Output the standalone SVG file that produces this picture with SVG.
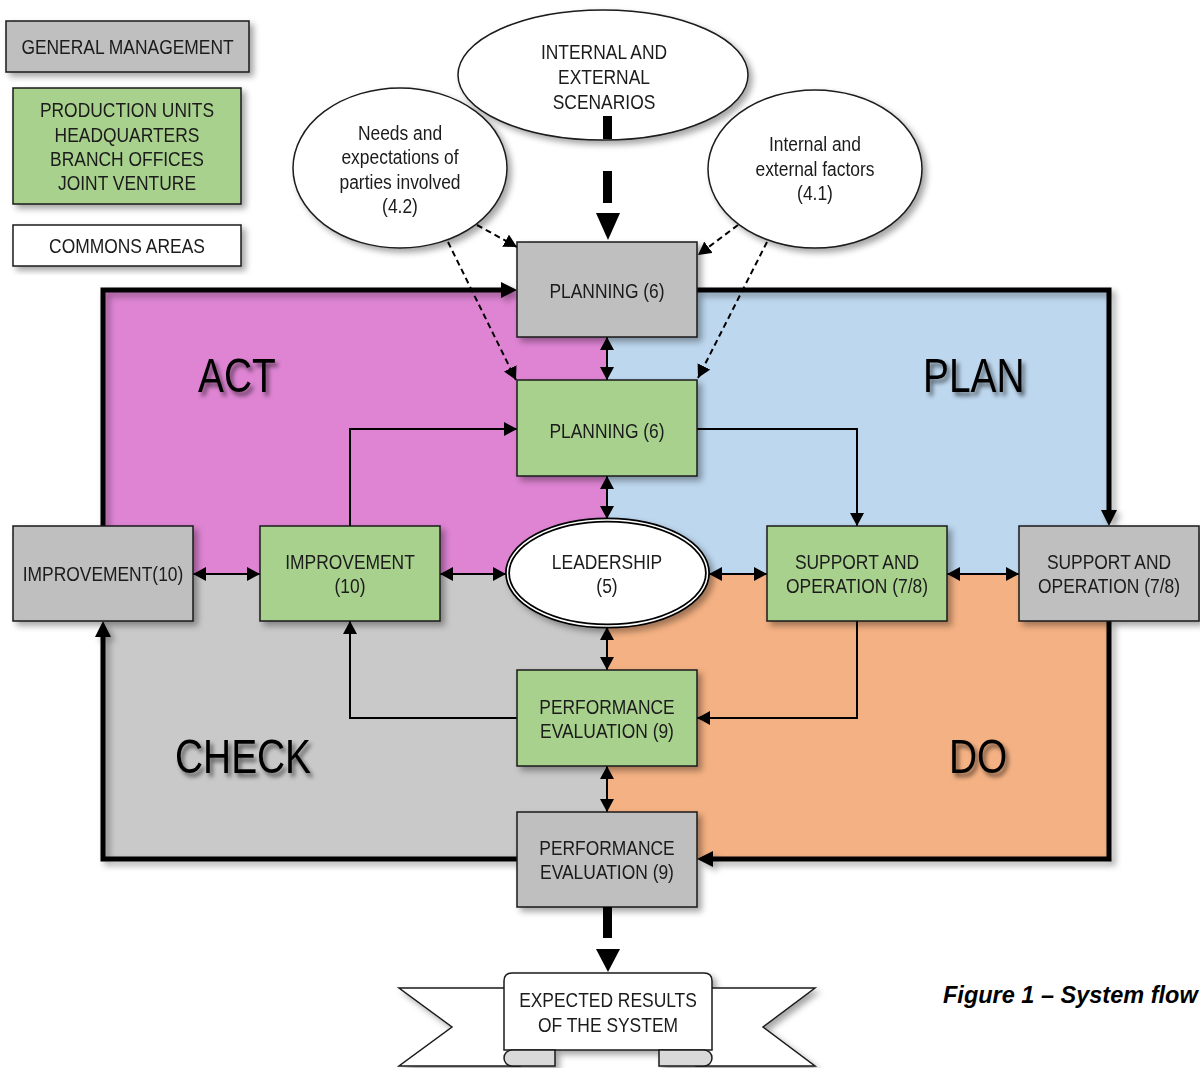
<svg xmlns="http://www.w3.org/2000/svg" width="1200" height="1068" viewBox="0 0 1200 1068">
<defs>
<style>
.box{stroke:#1a1a1a;stroke-width:1.5}
.gn{fill:#A9D18E}
.gy{fill:#BFBFBF}
.wh{fill:#FFFFFF}
.t{font-family:"Liberation Sans",Arial,sans-serif;font-size:21px;fill:#1a1a1a;text-anchor:middle}
.big{font-family:"Liberation Sans",Arial,sans-serif;font-size:48px;fill:#000}
.thin{stroke:#000;stroke-width:2;fill:none}
.thick{stroke:#000;stroke-width:5;fill:none}
.dash{stroke:#000;stroke-width:2;stroke-dasharray:6 4;fill:none}
.cap{font-family:"Liberation Sans",Arial,sans-serif;font-size:23.5px;font-weight:bold;font-style:italic;fill:#000}
</style>
<filter id="sh" x="-10%" y="-10%" width="130%" height="130%">
<feDropShadow dx="4" dy="4" stdDeviation="3" flood-color="#000" flood-opacity="0.35"/>
</filter>
<filter id="tsh" x="-20%" y="-20%" width="150%" height="160%">
<feDropShadow dx="3" dy="4" stdDeviation="2" flood-color="#000" flood-opacity="0.55"/>
</filter>
<marker id="ah" markerUnits="userSpaceOnUse" markerWidth="14" markerHeight="14" refX="13" refY="7" orient="auto-start-reverse">
<path d="M0,0 L13,7 L0,14 z" fill="#000"/>
</marker>
<marker id="ahT" markerUnits="userSpaceOnUse" markerWidth="16" markerHeight="16" refX="10" refY="8" orient="auto">
<path d="M0,0 L16,8 L0,16 z" fill="#000"/>
</marker>
</defs>

<rect width="1200" height="1068" fill="#FFFFFF"/>

<!-- quadrants -->
<g id="quadrants">
<rect x="103" y="290" width="504" height="284" fill="#DE84D3"/>
<rect x="607" y="290" width="502" height="284" fill="#BDD7EE"/>
<rect x="103" y="574" width="504" height="285" fill="#C9C9C9"/>
<rect x="607" y="574" width="502" height="285" fill="#F4B183"/>
</g>

<!-- frame cycle -->
<g id="frame" filter="url(#sh)">
<path class="thick" d="M103,526 V290 H511" marker-end="url(#ahT)"/>
<path class="thick" d="M697,290 H1109 V520" marker-end="url(#ahT)"/>
<path class="thick" d="M1109,621 V859 H703" marker-end="url(#ahT)"/>
<path class="thick" d="M517,859 H103 V627" marker-end="url(#ahT)"/>
</g>

<!-- quadrant labels -->
<g id="labels" filter="url(#tsh)">
<text class="big" transform="translate(198,392) scale(0.81,1)">ACT</text>
<text class="big" transform="translate(923,392) scale(0.81,1)">PLAN</text>
<text class="big" transform="translate(175,773) scale(0.81,1)">CHECK</text>
<text class="big" transform="translate(949,773) scale(0.81,1)">DO</text>
</g>

<!-- connectors -->
<g id="connectors">
<path class="thin" d="M607,337 V380" marker-start="url(#ah)" marker-end="url(#ah)"/>
<path class="thin" d="M607,476 V519" marker-start="url(#ah)" marker-end="url(#ah)"/>
<path class="thin" d="M607,627 V670" marker-start="url(#ah)" marker-end="url(#ah)"/>
<path class="thin" d="M607,766 V812" marker-start="url(#ah)" marker-end="url(#ah)"/>
<path class="thin" d="M193,574 H260" marker-start="url(#ah)" marker-end="url(#ah)"/>
<path class="thin" d="M440,574 H506" marker-start="url(#ah)" marker-end="url(#ah)"/>
<path class="thin" d="M709,574 H767" marker-start="url(#ah)" marker-end="url(#ah)"/>
<path class="thin" d="M947,574 H1019" marker-start="url(#ah)" marker-end="url(#ah)"/>
<path class="thin" d="M350,526 V429 H517" marker-end="url(#ah)"/>
<path class="thin" d="M697,429 H857 V526" marker-end="url(#ah)"/>
<path class="thin" d="M857,621 V718 H697" marker-end="url(#ah)"/>
<path class="thin" d="M517,718 H350 V621" marker-end="url(#ah)"/>
<path class="dash" d="M477,225 L517,247" marker-end="url(#ah)"/>
<path class="dash" d="M448,242 L516,380" marker-end="url(#ah)"/>
<path class="dash" d="M738,225 L698,255" marker-end="url(#ah)"/>
<path class="dash" d="M767,242 L698,378" marker-end="url(#ah)"/>
</g>

<!-- legend -->
<g id="legend-general" filter="url(#sh)">
<rect class="box gy" x="6" y="21" width="243" height="51"/>
<text class="t" transform="translate(127.5,54) scale(0.83,1)">GENERAL MANAGEMENT</text>
</g>
<g id="legend-units" filter="url(#sh)">
<rect class="box gn" x="13" y="88" width="228" height="116"/>
<text class="t" transform="translate(127,117) scale(0.83,1)">PRODUCTION UNITS</text>
<text class="t" transform="translate(127,141.5) scale(0.83,1)">HEADQUARTERS</text>
<text class="t" transform="translate(127,166) scale(0.83,1)">BRANCH OFFICES</text>
<text class="t" transform="translate(127,190) scale(0.83,1)">JOINT VENTURE</text>
</g>
<g id="legend-commons" filter="url(#sh)">
<rect class="box wh" x="13" y="225" width="228" height="41"/>
<text class="t" transform="translate(127,253) scale(0.83,1)">COMMONS AREAS</text>
</g>

<!-- ellipses -->
<g id="scenarios" filter="url(#sh)">
<ellipse class="box wh" cx="603" cy="75" rx="145" ry="65"/>
<text class="t" transform="translate(604,59) scale(0.83,1)">INTERNAL AND</text>
<text class="t" transform="translate(604,84) scale(0.83,1)">EXTERNAL</text>
<text class="t" transform="translate(604,109) scale(0.83,1)">SCENARIOS</text>
</g>
<g id="needs" filter="url(#sh)">
<ellipse class="box wh" cx="400" cy="168" rx="107" ry="80"/>
<text class="t" transform="translate(400,140) scale(0.83,1)">Needs and</text>
<text class="t" transform="translate(400,164) scale(0.83,1)">expectations of</text>
<text class="t" transform="translate(400,189) scale(0.83,1)">parties involved</text>
<text class="t" transform="translate(400,213) scale(0.83,1)">(4.2)</text>
</g>
<g id="factors" filter="url(#sh)">
<ellipse class="box wh" cx="815" cy="169" rx="107" ry="79"/>
<text class="t" transform="translate(815,151) scale(0.83,1)">Internal and</text>
<text class="t" transform="translate(815,176) scale(0.83,1)">external factors</text>
<text class="t" transform="translate(815,200) scale(0.83,1)">(4.1)</text>
</g>

<!-- scenario thick dashed arrow -->
<g id="scenario-arrow">
<rect x="603" y="116" width="9" height="23" fill="#000"/>
<rect x="603" y="171" width="9" height="32" fill="#000"/>
<polygon points="596,213 620,213 608,240" fill="#000"/>
</g>

<!-- nodes -->
<g id="planning-gm" filter="url(#sh)">
<rect class="box gy" x="517" y="242" width="180" height="95"/>
<text class="t" transform="translate(607,298) scale(0.83,1)">PLANNING (6)</text>
</g>
<g id="planning-pu" filter="url(#sh)">
<rect class="box gn" x="517" y="380" width="180" height="96"/>
<text class="t" transform="translate(607,438) scale(0.83,1)">PLANNING (6)</text>
</g>
<g id="leadership" filter="url(#sh)">
<ellipse cx="607.5" cy="573" rx="100" ry="53" fill="#FFFFFF" stroke="#000" stroke-width="5"/>
<ellipse cx="607.5" cy="573" rx="100" ry="53" fill="none" stroke="#FFFFFF" stroke-width="1.5"/>
<text class="t" transform="translate(607,569) scale(0.83,1)">LEADERSHIP</text>
<text class="t" transform="translate(607,593) scale(0.83,1)">(5)</text>
</g>
<g id="support-pu" filter="url(#sh)">
<rect class="box gn" x="767" y="526" width="180" height="95"/>
<text class="t" transform="translate(857,569) scale(0.83,1)">SUPPORT AND</text>
<text class="t" transform="translate(857,593) scale(0.83,1)">OPERATION (7/8)</text>
</g>
<g id="support-gm" filter="url(#sh)">
<rect class="box gy" x="1019" y="526" width="180" height="95"/>
<text class="t" transform="translate(1109,569) scale(0.83,1)">SUPPORT AND</text>
<text class="t" transform="translate(1109,593) scale(0.83,1)">OPERATION (7/8)</text>
</g>
<g id="perf-pu" filter="url(#sh)">
<rect class="box gn" x="517" y="670" width="180" height="96"/>
<text class="t" transform="translate(607,714) scale(0.83,1)">PERFORMANCE</text>
<text class="t" transform="translate(607,738) scale(0.83,1)">EVALUATION (9)</text>
</g>
<g id="perf-gm" filter="url(#sh)">
<rect class="box gy" x="517" y="812" width="180" height="95"/>
<text class="t" transform="translate(607,855) scale(0.83,1)">PERFORMANCE</text>
<text class="t" transform="translate(607,879) scale(0.83,1)">EVALUATION (9)</text>
</g>
<g id="improvement-gm" filter="url(#sh)">
<rect class="box gy" x="13" y="526" width="180" height="95"/>
<text class="t" transform="translate(103,581) scale(0.83,1)">IMPROVEMENT(10)</text>
</g>
<g id="improvement-pu" filter="url(#sh)">
<rect class="box gn" x="260" y="526" width="180" height="95"/>
<text class="t" transform="translate(350,569) scale(0.83,1)">IMPROVEMENT</text>
<text class="t" transform="translate(350,593) scale(0.83,1)">(10)</text>
</g>

<!-- results arrow -->
<g id="results-arrow">
<rect x="603" y="907" width="9" height="31" fill="#000"/>
<polygon points="596,949 620,949 608,972" fill="#000"/>
</g>

<!-- banner -->
<g id="results" filter="url(#sh)">
<polygon class="box wh" points="399,988 520,988 520,1066 399,1066 452,1027"/>
<polygon class="box wh" points="815,988 696,988 696,1066 815,1066 763,1027"/>
<path class="box wh" d="M504,981 Q504,973 512,973 H704 Q712,973 712,981 V1050 H504 Z"/>
<path class="box" fill="#D9D9D9" d="M555,1050 H512 A8,8 0 0 0 512,1066 H555 Z"/>
<path class="box" fill="#D9D9D9" d="M659,1050 H704 A8,8 0 0 1 704,1066 H659 Z"/>
<text class="t" transform="translate(608,1007) scale(0.83,1)">EXPECTED RESULTS</text>
<text class="t" transform="translate(608,1032) scale(0.83,1)">OF THE SYSTEM</text>
</g>

<text class="cap" x="943" y="1003">Figure 1 – System flow</text>
</svg>
